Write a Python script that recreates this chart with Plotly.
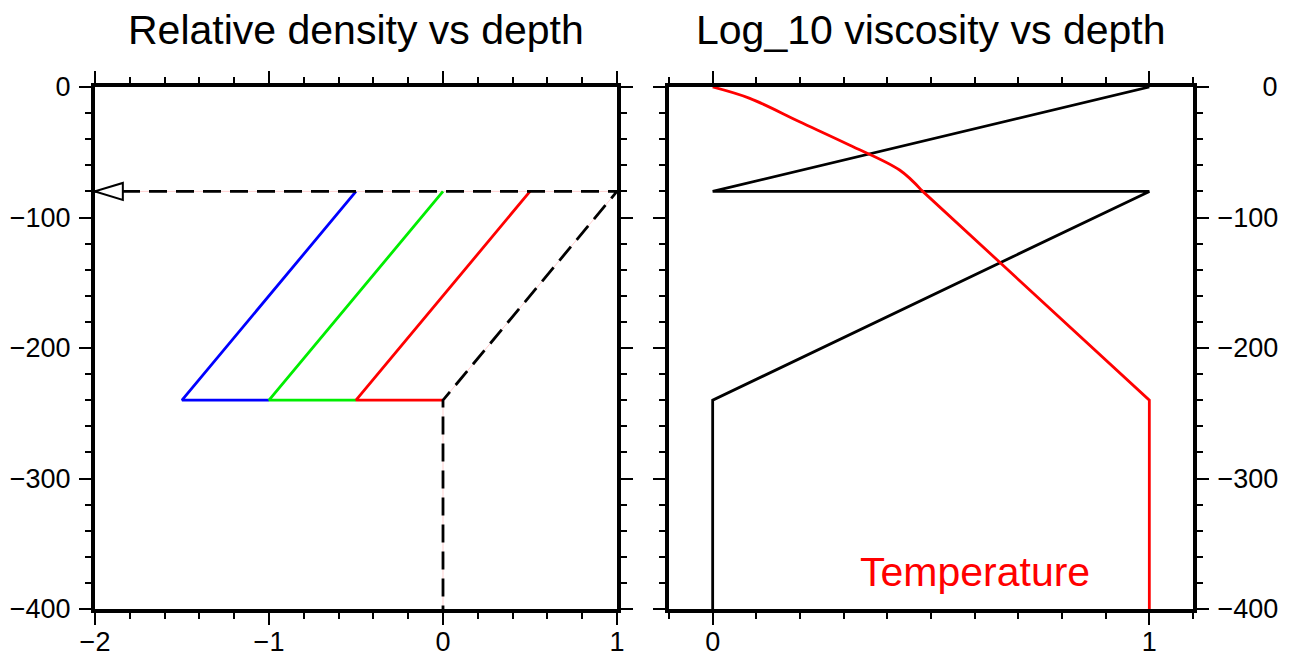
import plotly.graph_objects as go

# ---------------- data ----------------
# Left panel: relative density vs depth
blue_x = [-0.5, -1.5, -1.0]
blue_y = [-80, -240, -240]
green_x = [0.0, -1.0, -0.5]
green_y = [-80, -240, -240]
red_x = [0.5, -0.5, 0.0]
red_y = [-80, -240, -240]
ref_x = [-2.0, 1.0, 0.0, 0.0]
ref_y = [-80, -80, -240, -400]
arrow_x = [-2.0, -1.84, -1.84, -2.0]
arrow_y = [-80, -73.5, -86.5, -80]

# Right panel: log10 viscosity vs depth and temperature
visc_x = [1, 0, 1, 0, 0]
visc_y = [0, -80, -80, -240, -400]
temp_x = [0.0, 0.085, 0.199, 0.313, 0.428, 0.478, 1.0, 1.0]
temp_y = [0, -8.7, -26.6, -44.4, -63.6, -79, -240, -400]
temp_curve_end = 6  # points before this index form the curved (upper) part

depth_ticks = [0, -100, -200, -300, -400]
depth_labels_right = ["\u2007\u2007\u20070", "\u2212100", "\u2212200", "\u2212300", "\u2212400"]

titles = ["Relative density vs depth", "Log_10 viscosity vs depth"]
temp_label = "Temperature"

# ---------------- figure ----------------
W, H = 1291, 659
FONT = "Liberation Sans, Arial, Helvetica, sans-serif"
L, R, T, B = 95, 1193, 87, 609   # plot-area pixel edges
PW = R - L
TICKFS = 27

fig = go.Figure()

faint = "rgba(255,120,120,0.35)"
LW = 2.8
fig.add_trace(go.Scatter(x=ref_x, y=ref_y, mode="lines", xaxis="x", yaxis="y",
                         line=dict(color=faint, width=1), hoverinfo="skip"))
fig.add_trace(go.Scatter(x=blue_x, y=blue_y, mode="lines", xaxis="x", yaxis="y",
                         line=dict(color="#0000ff", width=LW)))
fig.add_trace(go.Scatter(x=green_x, y=green_y, mode="lines", xaxis="x", yaxis="y",
                         line=dict(color="#00ee00", width=LW)))
fig.add_trace(go.Scatter(x=red_x, y=red_y, mode="lines", xaxis="x", yaxis="y",
                         line=dict(color="#ff0000", width=LW)))
fig.add_trace(go.Scatter(x=ref_x, y=ref_y, mode="lines", xaxis="x", yaxis="y",
                         line=dict(color="black", width=LW, dash="18px,9px")))
fig.add_trace(go.Scatter(x=arrow_x, y=arrow_y, mode="lines", xaxis="x", yaxis="y",
                         fill="toself", fillcolor="white",
                         line=dict(color="black", width=2), cliponaxis=False))

fig.add_trace(go.Scatter(x=visc_x, y=visc_y, mode="lines", xaxis="x2", yaxis="y2",
                         line=dict(color="black", width=LW)))
fig.add_trace(go.Scatter(x=temp_x[:temp_curve_end], y=temp_y[:temp_curve_end],
                         mode="lines", xaxis="x2", yaxis="y2",
                         line=dict(color="#ff0000", width=LW, shape="spline", smoothing=1.0)))
fig.add_trace(go.Scatter(x=temp_x[temp_curve_end - 1:], y=temp_y[temp_curve_end - 1:],
                         mode="lines", xaxis="x2", yaxis="y2",
                         line=dict(color="#ff0000", width=LW)))

x1d = [0, (617 - L) / PW]
x2d = [(669 - L) / PW, 1]
yd = [0, 1]

minor_style = dict(ticks="outside", ticklen=6, tickwidth=2, tickcolor="black")
common = dict(showline=True, linewidth=4, linecolor="black", mirror="allticks",
              ticks="outside", ticklen=12, tickwidth=2, tickcolor="black",
              showgrid=False, zeroline=False, automargin=False,
              tickfont=dict(family=FONT, size=TICKFS, color="black"))

fig.update_layout(
    width=W, height=H,
    margin=dict(l=L, r=W - R, t=T, b=H - B, pad=0),
    paper_bgcolor="white", plot_bgcolor="white",
    showlegend=False,
    xaxis=dict(domain=x1d, range=[-2, 1], dtick=1, tick0=0, anchor="y",
               ticklabelstandoff=-6,
               minor=dict(dtick=0.2, **minor_style), **common),
    yaxis=dict(domain=yd, range=[-400, 0], tickvals=depth_ticks, anchor="x",
               ticklabelstandoff=3,
               minor=dict(dtick=20, tick0=0, **minor_style), **common),
    xaxis2=dict(domain=x2d, range=[-0.1, 1.1], dtick=1, tick0=0, anchor="y2",
                ticklabelstandoff=-6,
                minor=dict(dtick=0.1, tick0=0, **minor_style), **common),
    yaxis2=dict(domain=yd, range=[-400, 0], tickvals=depth_ticks, ticktext=depth_labels_right,
                anchor="x2", side="right", ticklabelstandoff=3,
                minor=dict(dtick=20, tick0=0, **minor_style), **common),
)

title_y = 1 + (T - 30) / (B - T)
fig.add_annotation(text=titles[0], xref="paper", yref="paper", x=sum(x1d) / 2,
                   y=title_y, xanchor="center", yanchor="middle", showarrow=False,
                   font=dict(family=FONT, size=41, color="black"))
fig.add_annotation(text=titles[1], xref="paper", yref="paper", x=sum(x2d) / 2,
                   y=title_y, xanchor="center", yanchor="middle", showarrow=False,
                   font=dict(family=FONT, size=41, color="black"))
fig.add_annotation(text=temp_label, xref="x2", yref="y2", x=0.6, y=-372,
                   xanchor="center", yanchor="middle", showarrow=False,
                   font=dict(family=FONT, size=41, color="#ff0000"))

fig.write_html("out.html", config={"displayModeBar": False},
               post_script="document.body.style.margin='0';document.body.style.overflow='hidden';")
